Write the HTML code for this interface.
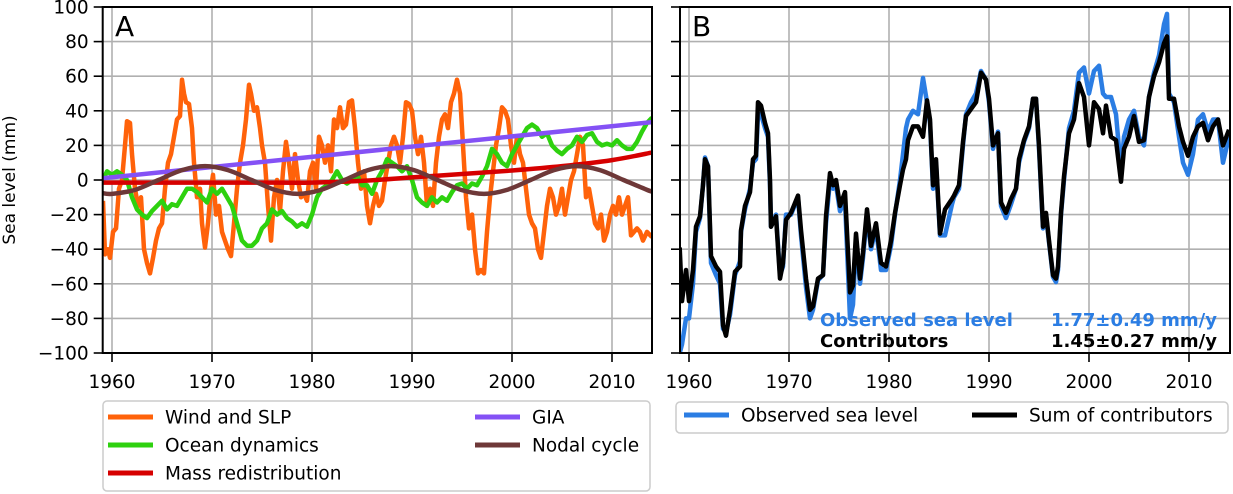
<!DOCTYPE html>
<html><head><meta charset="utf-8"><style>
body{margin:0;background:#fff}
svg{display:block;font-family:"DejaVu Sans","Liberation Sans",sans-serif}
</style></head><body>
<svg id="c" width="1233" height="494" viewBox="0 0 1233 494"></svg>
<script>
const yTicks=[100,80,60,40,20,0,-20,-40,-60,-80,-100];
const yTickLabels=["100","80","60","40","20","0","\u221220","\u221240","\u221260","\u221280","\u2212100"];
const xTicks=[1960,1970,1980,1990,2000,2010];
const xTickLabels=["1960","1970","1980","1990","2000","2010"];

const windYears=[1959.1,1959.3,1959.6,1959.8,1960.1,1960.4,1960.7,1961.0,1961.3,1961.5,1961.8,1962.0,1962.3,1962.6,1962.9,1963.2,1963.5,1963.8,1964.1,1964.4,1964.7,1965.0,1965.3,1965.6,1965.9,1966.2,1966.5,1966.8,1967.0,1967.2,1967.4,1967.7,1968.0,1968.2,1968.5,1968.8,1969.0,1969.3,1969.6,1969.9,1970.1,1970.4,1970.7,1971.0,1971.3,1971.6,1971.9,1972.2,1972.5,1972.8,1973.1,1973.4,1973.7,1973.9,1974.2,1974.5,1974.8,1975.0,1975.3,1975.6,1975.9,1976.2,1976.5,1976.8,1977.1,1977.4,1977.7,1978.0,1978.3,1978.6,1978.9,1979.2,1979.5,1979.8,1980.1,1980.4,1980.7,1981.0,1981.3,1981.6,1981.9,1982.2,1982.5,1982.8,1983.1,1983.4,1983.7,1984.0,1984.3,1984.6,1984.9,1985.2,1985.5,1985.8,1986.1,1986.4,1986.7,1987.0,1987.3,1987.6,1987.9,1988.2,1988.5,1988.8,1989.1,1989.4,1989.7,1990.0,1990.3,1990.6,1990.9,1991.2,1991.5,1991.8,1992.1,1992.4,1992.7,1993.0,1993.3,1993.6,1993.9,1994.2,1994.5,1994.8,1995.1,1995.4,1995.7,1996.0,1996.3,1996.6,1996.9,1997.2,1997.5,1997.8,1998.1,1998.4,1998.7,1999.0,1999.3,1999.6,1999.9,2000.2,2000.5,2000.8,2001.1,2001.4,2001.7,2002.0,2002.3,2002.6,2002.9,2003.2,2003.5,2003.8,2004.1,2004.4,2004.7,2005.0,2005.3,2005.6,2005.9,2006.2,2006.5,2006.8,2007.1,2007.4,2007.7,2008.0,2008.3,2008.6,2008.9,2009.2,2009.5,2009.8,2010.1,2010.4,2010.7,2011.0,2011.3,2011.6,2011.9,2012.2,2012.5,2012.8,2013.1,2013.5,2014.0];
const windValues=[-12,-43,-40,-45,-30,-28,-5,0,20,34,33,15,-5,-15,-10,-40,-48,-54,-45,-35,-28,-25,-5,10,15,25,35,37,58,50,45,44,30,10,-10,-5,-25,-39,-25,-5,3,-20,-15,-30,-35,-40,-44,-25,-5,10,20,35,55,50,40,42,30,20,10,-15,-35,-10,0,-18,5,22,10,-5,15,0,-10,-8,-12,5,10,-5,25,20,10,20,5,35,30,42,30,32,45,46,30,10,-5,5,-15,-25,-15,-8,-15,-12,0,10,20,25,20,10,25,45,44,40,25,15,25,10,-15,-5,-15,10,25,35,38,30,45,50,58,50,20,-10,-28,-20,-40,-54,-52,-54,-30,-10,5,20,30,42,40,35,20,10,25,15,10,-5,-20,-25,-28,-40,-45,-30,-15,-5,-10,-20,-15,-5,-20,-10,0,5,15,25,20,-10,-5,-15,-25,-28,-20,-35,-30,-20,-15,-20,-10,-20,-15,-10,-32,-30,-28,-30,-35,-30,-33];

const oceanYears=[1959.1,1959.5,1960,1960.5,1961,1961.5,1962,1962.5,1963,1963.5,1964,1964.5,1965,1965.5,1966,1966.5,1967,1967.5,1968,1968.5,1969,1969.5,1970,1970.5,1971,1971.5,1972,1972.5,1973,1973.5,1974,1974.5,1975,1975.5,1976,1976.5,1977,1977.5,1978,1978.5,1979,1979.5,1980,1980.5,1981,1981.5,1982,1982.5,1983,1983.5,1984,1984.5,1985,1985.5,1986,1986.5,1987,1987.5,1988,1988.5,1989,1989.5,1990,1990.5,1991,1991.5,1992,1992.5,1993,1993.5,1994,1994.5,1995,1995.5,1996,1996.5,1997,1997.5,1998,1998.5,1999,1999.5,2000,2000.5,2001,2001.5,2002,2002.5,2003,2003.5,2004,2004.5,2005,2005.5,2006,2006.5,2007,2007.5,2008,2008.5,2009,2009.5,2010,2010.5,2011,2011.5,2012,2012.5,2013,2013.5,2014];
const oceanValues=[0,5,3,5,3,0,-10,-17,-20,-22,-18,-15,-12,-17,-14,-15,-10,-5,-5,-7,-10,-13,-5,-8,-5,-10,-15,-25,-35,-38,-38,-35,-28,-25,-17,-20,-18,-22,-24,-27,-25,-27,-20,-10,-5,-3,0,5,0,-2,0,3,-3,-3,-8,0,5,12,10,8,5,8,0,-10,-13,-15,-10,-13,-10,-12,-7,-3,-2,-5,-2,-3,2,8,18,15,10,8,15,20,25,30,32,30,25,27,20,17,15,18,20,25,22,26,27,22,20,21,20,23,20,18,18,22,28,33,36];

const giaYears=[1959.0,2014.1];
const giaValues=[1,33.5];

const massYears=[1959.0,1965,1970,1975,1980,1985,1990,1995,2000,2005,2010,2014.1];
const massValues=[-1.5,-1.5,-1.5,-1.5,-1.5,-0.5,1.5,3.5,5.5,8,11.5,16];

const nodalYears=[1959.0,1960.0,1962.3,1964.65,1967.0,1969.3,1971.6,1973.95,1976.3,1978.6,1980.9,1983.25,1985.6,1987.9,1990.2,1992.55,1994.9,1997.2,1999.5,2001.85,2004.2,2006.5,2008.8,2011.15,2013.5,2014.1];
const nodalValues=[-7.5,-8,-5.7,0,5.7,8,5.7,0,-5.7,-8,-5.7,0,5.7,8,5.7,0,-5.7,-8,-5.7,0,5.7,8,5.7,0,-5.7,-6.8];

const sumYears=[1959.07,1959.3,1959.7,1960.0,1960.4,1960.7,1961.1,1961.4,1961.6,1961.9,1962.2,1962.7,1963.1,1963.4,1963.7,1964.1,1964.6,1965.1,1965.2,1965.6,1966.1,1966.4,1966.7,1966.9,1967.2,1967.6,1967.9,1968.1,1968.2,1968.7,1969.1,1969.4,1969.7,1970.2,1970.9,1971.2,1971.7,1972.1,1972.4,1972.9,1973.4,1973.7,1974.1,1974.4,1974.7,1975.1,1975.6,1976.1,1976.4,1976.7,1977.1,1977.4,1977.8,1978.2,1978.7,1979.2,1979.7,1980.2,1980.6,1981.1,1981.4,1981.7,1981.9,1982.4,1982.9,1983.4,1983.8,1984.1,1984.4,1984.7,1985.1,1985.6,1986.3,1986.5,1987.0,1987.4,1987.7,1988.2,1988.7,1989.2,1989.7,1990.0,1990.4,1990.9,1991.2,1991.7,1992.2,1992.7,1993.0,1993.5,1994.0,1994.4,1994.7,1995.0,1995.4,1995.7,1996.0,1996.4,1996.7,1996.9,1997.2,1997.5,1998.0,1998.5,1999.0,1999.5,2000.0,2000.5,2001.0,2001.4,2001.7,2002.2,2002.7,2003.2,2003.5,2004.0,2004.5,2005.0,2005.5,2006.0,2006.5,2007.0,2007.5,2007.8,2008.0,2008.5,2009.0,2009.4,2009.9,2010.4,2010.9,2011.4,2011.9,2012.4,2012.9,2013.4,2014.0];
const sumValues=[-39,-70,-52,-70,-52,-27,-21,-3,12,8,-44,-50,-53,-84,-90,-75,-53,-50,-29,-15,-7,12,14,45,43,33,27,0,-27,-21,-57,-48,-23,-19,-9,-29,-57,-75,-73,-57,-55,-21,4,-3,0,-15,-7,-65,-61,-31,-57,-42,-17,-38,-25,-48,-50,-35,-19,-3,6,12,23,31,31,25,46,35,-3,12,-31,-17,-11,-9,-3,22,37,41,45,62,58,47,20,27,-13,-19,-11,-5,12,23,31,47,47,20,-27,-19,-35,-55,-57,-50,-19,2,27,35,56,48,20,45,41,27,43,25,23,-1,18,25,37,22,23,48,60,68,79,83,47,47,31,22,14,25,31,33,23,31,35,20,29];
const obsValues=[-100,-95,-80,-80,-60,-30,-22,-3,13,8,-48,-55,-60,-86,-88,-78,-55,-47,-30,-17,-5,10,12,38,38,30,25,-3,-27,-20,-55,-50,-20,-20,-10,-32,-62,-80,-75,-58,-55,-25,0,-5,-3,-18,-12,-80,-72,-35,-60,-45,-20,-40,-28,-52,-52,-38,-20,0,15,30,35,40,38,59,45,33,-5,10,-32,-32,-14,-10,-5,20,38,45,50,63,58,45,18,28,-15,-22,-14,-5,10,22,30,47,47,18,-28,-20,-36,-56,-59,-52,-20,0,30,40,62,65,50,63,66,50,48,48,38,5,25,35,40,25,20,48,62,72,90,96,50,45,25,10,3,15,35,38,28,35,35,10,25];

const svg=document.getElementById('c');
const NS='http://www.w3.org/2000/svg';
function mk(tag,attrs,parent){const e=document.createElementNS(NS,tag);for(const k in attrs)e.setAttribute(k,attrs[k]);(parent||svg).appendChild(e);return e;}
const yS=v=>180-v*1.73;
const panels=[{x0:102.7,x1:652,yr0:1959.07},{x0:680,x1:1230,yr0:1959.1}];
const xS=(p,yr)=>p.x0+(yr-p.yr0)*10;
const plotTop=7,plotBot=353;

function drawAxes(p,idx,showY){
  const g=mk('g',{});
  
  
  yTicks.forEach((v,i)=>{
    const l=mk('line',{x1:p.x0,x2:p.x1,y1:yS(v),y2:yS(v),stroke:'#b0b0b0','stroke-width':1.6},g);
    
    
    const t=mk('line',{x1:p.x0-9,x2:p.x0,y1:yS(v),y2:yS(v),stroke:'#000','stroke-width':1.6},g);
    
    
    if(showY){
      const tx=mk('text',{x:p.x0-14,y:yS(v)+6.5,'text-anchor':'end','font-size':18.5,fill:'#000'},g);
      tx.textContent=yTickLabels[i];
      
      
    }
  });
  xTicks.forEach((yr,i)=>{
    const x=xS(p,yr);
    const l=mk('line',{x1:x,x2:x,y1:plotTop,y2:plotBot,stroke:'#b0b0b0','stroke-width':1.6},g);
    
    
    const t=mk('line',{x1:x,x2:x,y1:plotBot,y2:plotBot+9,stroke:'#000','stroke-width':1.6},g);
    
    
    const tx=mk('text',{x:x,y:388,'text-anchor':'middle','font-size':18.5,fill:'#000'},g);
    tx.textContent=xTickLabels[i];
    
    
  });
}
function drawFrame(p,idx){
  const r=mk('rect',{x:p.x0,y:plotTop,width:p.x1-p.x0,height:plotBot-plotTop,fill:'none',stroke:'#000','stroke-width':2});
  
  
}
function clip(p,id){const c=mk('clipPath',{id:id});mk('rect',{x:p.x0,y:plotTop,width:p.x1-p.x0,height:plotBot-plotTop},c);}
function poly(p,xs,ys,color,name,clipId,w){
  const n=Math.min(xs.length,ys.length);
  const pts=[];
  for(let i=0;i<n;i++)pts.push(xS(p,xs[i]).toFixed(1)+','+yS(ys[i]).toFixed(1));
  const e=mk('polyline',{points:pts.join(' '),fill:'none',stroke:color,'stroke-width':w||4.5,'stroke-linejoin':'round','clip-path':'url(#'+clipId+')'});
  
  
}
function smooth(p,xs,ys,color,name,clipId){
  const n=Math.min(xs.length,ys.length);
  const P=[];
  for(let i=0;i<n;i++)P.push([xS(p,xs[i]),yS(ys[i])]);
  let d='M'+P[0][0]+','+P[0][1];
  for(let i=0;i<P.length-1;i++){
    const p0=P[i-1]||P[i],p1=P[i],p2=P[i+1],p3=P[i+2]||P[i+1];
    d+=' C'+(p1[0]+(p2[0]-p0[0])/6)+','+(p1[1]+(p2[1]-p0[1])/6)+' '+(p2[0]-(p3[0]-p1[0])/6)+','+(p2[1]-(p3[1]-p1[1])/6)+' '+p2[0]+','+p2[1];
  }
  const e=mk('path',{d:d,fill:'none',stroke:color,'stroke-width':4.5,'clip-path':'url(#'+clipId+')'});
  
  
}
const A=panels[0],B=panels[1];
clip(A,'ca');clip(B,'cb');
drawAxes(A,0,true);drawAxes(B,1,false);
poly(A,windYears,windValues,'#ff620a','wind-and-slp-line','ca');
poly(A,oceanYears,oceanValues,'#2ed10f','ocean-dynamics-line','ca');
poly(A,giaYears,giaValues,'#8451f5','gia-line','ca');
smooth(A,massYears,massValues,'#d60000','mass-redistribution-line','ca');
smooth(A,nodalYears,nodalValues,'#6e3838','nodal-cycle-line','ca');
poly(B,sumYears,obsValues,'#2b7de3','observed-sea-level-line','cb');
poly(B,sumYears,sumValues,'#000','sum-of-contributors-line','cb');
drawFrame(A,0);drawFrame(B,1);

function txt(x,y,s,attrs,name){const t=mk('text',Object.assign({x:x,y:y},attrs));t.textContent=s;return t;}
txt(115,36,'A',{'font-size':28},'panel-a-label');
txt(692,36,'B',{'font-size':28},'panel-b-label');
txt(0,0,'Sea level (mm)',{'font-size':17,'text-anchor':'middle',transform:'translate(15,180) rotate(-90)'},'y-axis-title');
txt(820,326,'Observed sea level',{'font-size':18,'font-weight':'bold',fill:'#2b7de3'},'observed-annotation');
txt(1217,326,'1.77\u00b10.49 mm/y',{'font-size':18,'font-weight':'bold',fill:'#2b7de3','text-anchor':'end'},'observed-rate');
txt(820,347,'Contributors',{'font-size':18,'font-weight':'bold',fill:'#000'},'contributors-annotation');
txt(1217,347,'1.45\u00b10.27 mm/y',{'font-size':18,'font-weight':'bold',fill:'#000','text-anchor':'end'},'contributors-rate');

const la=mk('rect',{x:103,y:401,width:547,height:90,rx:4,fill:'#fff',stroke:'#cccccc','stroke-width':1.5});


const lb=mk('rect',{x:676,y:402,width:552,height:31,rx:4,fill:'#fff',stroke:'#cccccc','stroke-width':1.5});


function entry(x,y,color,label,name){
  const g=mk('g',{});
  
  
  mk('line',{x1:x,x2:x+45,y1:y,y2:y,stroke:color,'stroke-width':5},g);
  const t=mk('text',{x:x+57,y:y+6.5,'font-size':18.5},g);t.textContent=label;
}
entry(108,417,'#ff620a','Wind and SLP','legend-entry-wind');
entry(108,445,'#2ed10f','Ocean dynamics','legend-entry-ocean');
entry(108,473,'#d60000','Mass redistribution','legend-entry-mass');
entry(475,417,'#8451f5','GIA','legend-entry-gia');
entry(475,445,'#6e3838','Nodal cycle','legend-entry-nodal');
entry(684,415,'#2b7de3','Observed sea level','legend-entry-observed');
entry(972,415,'#000','Sum of contributors','legend-entry-sum');
</script>
</body></html>
